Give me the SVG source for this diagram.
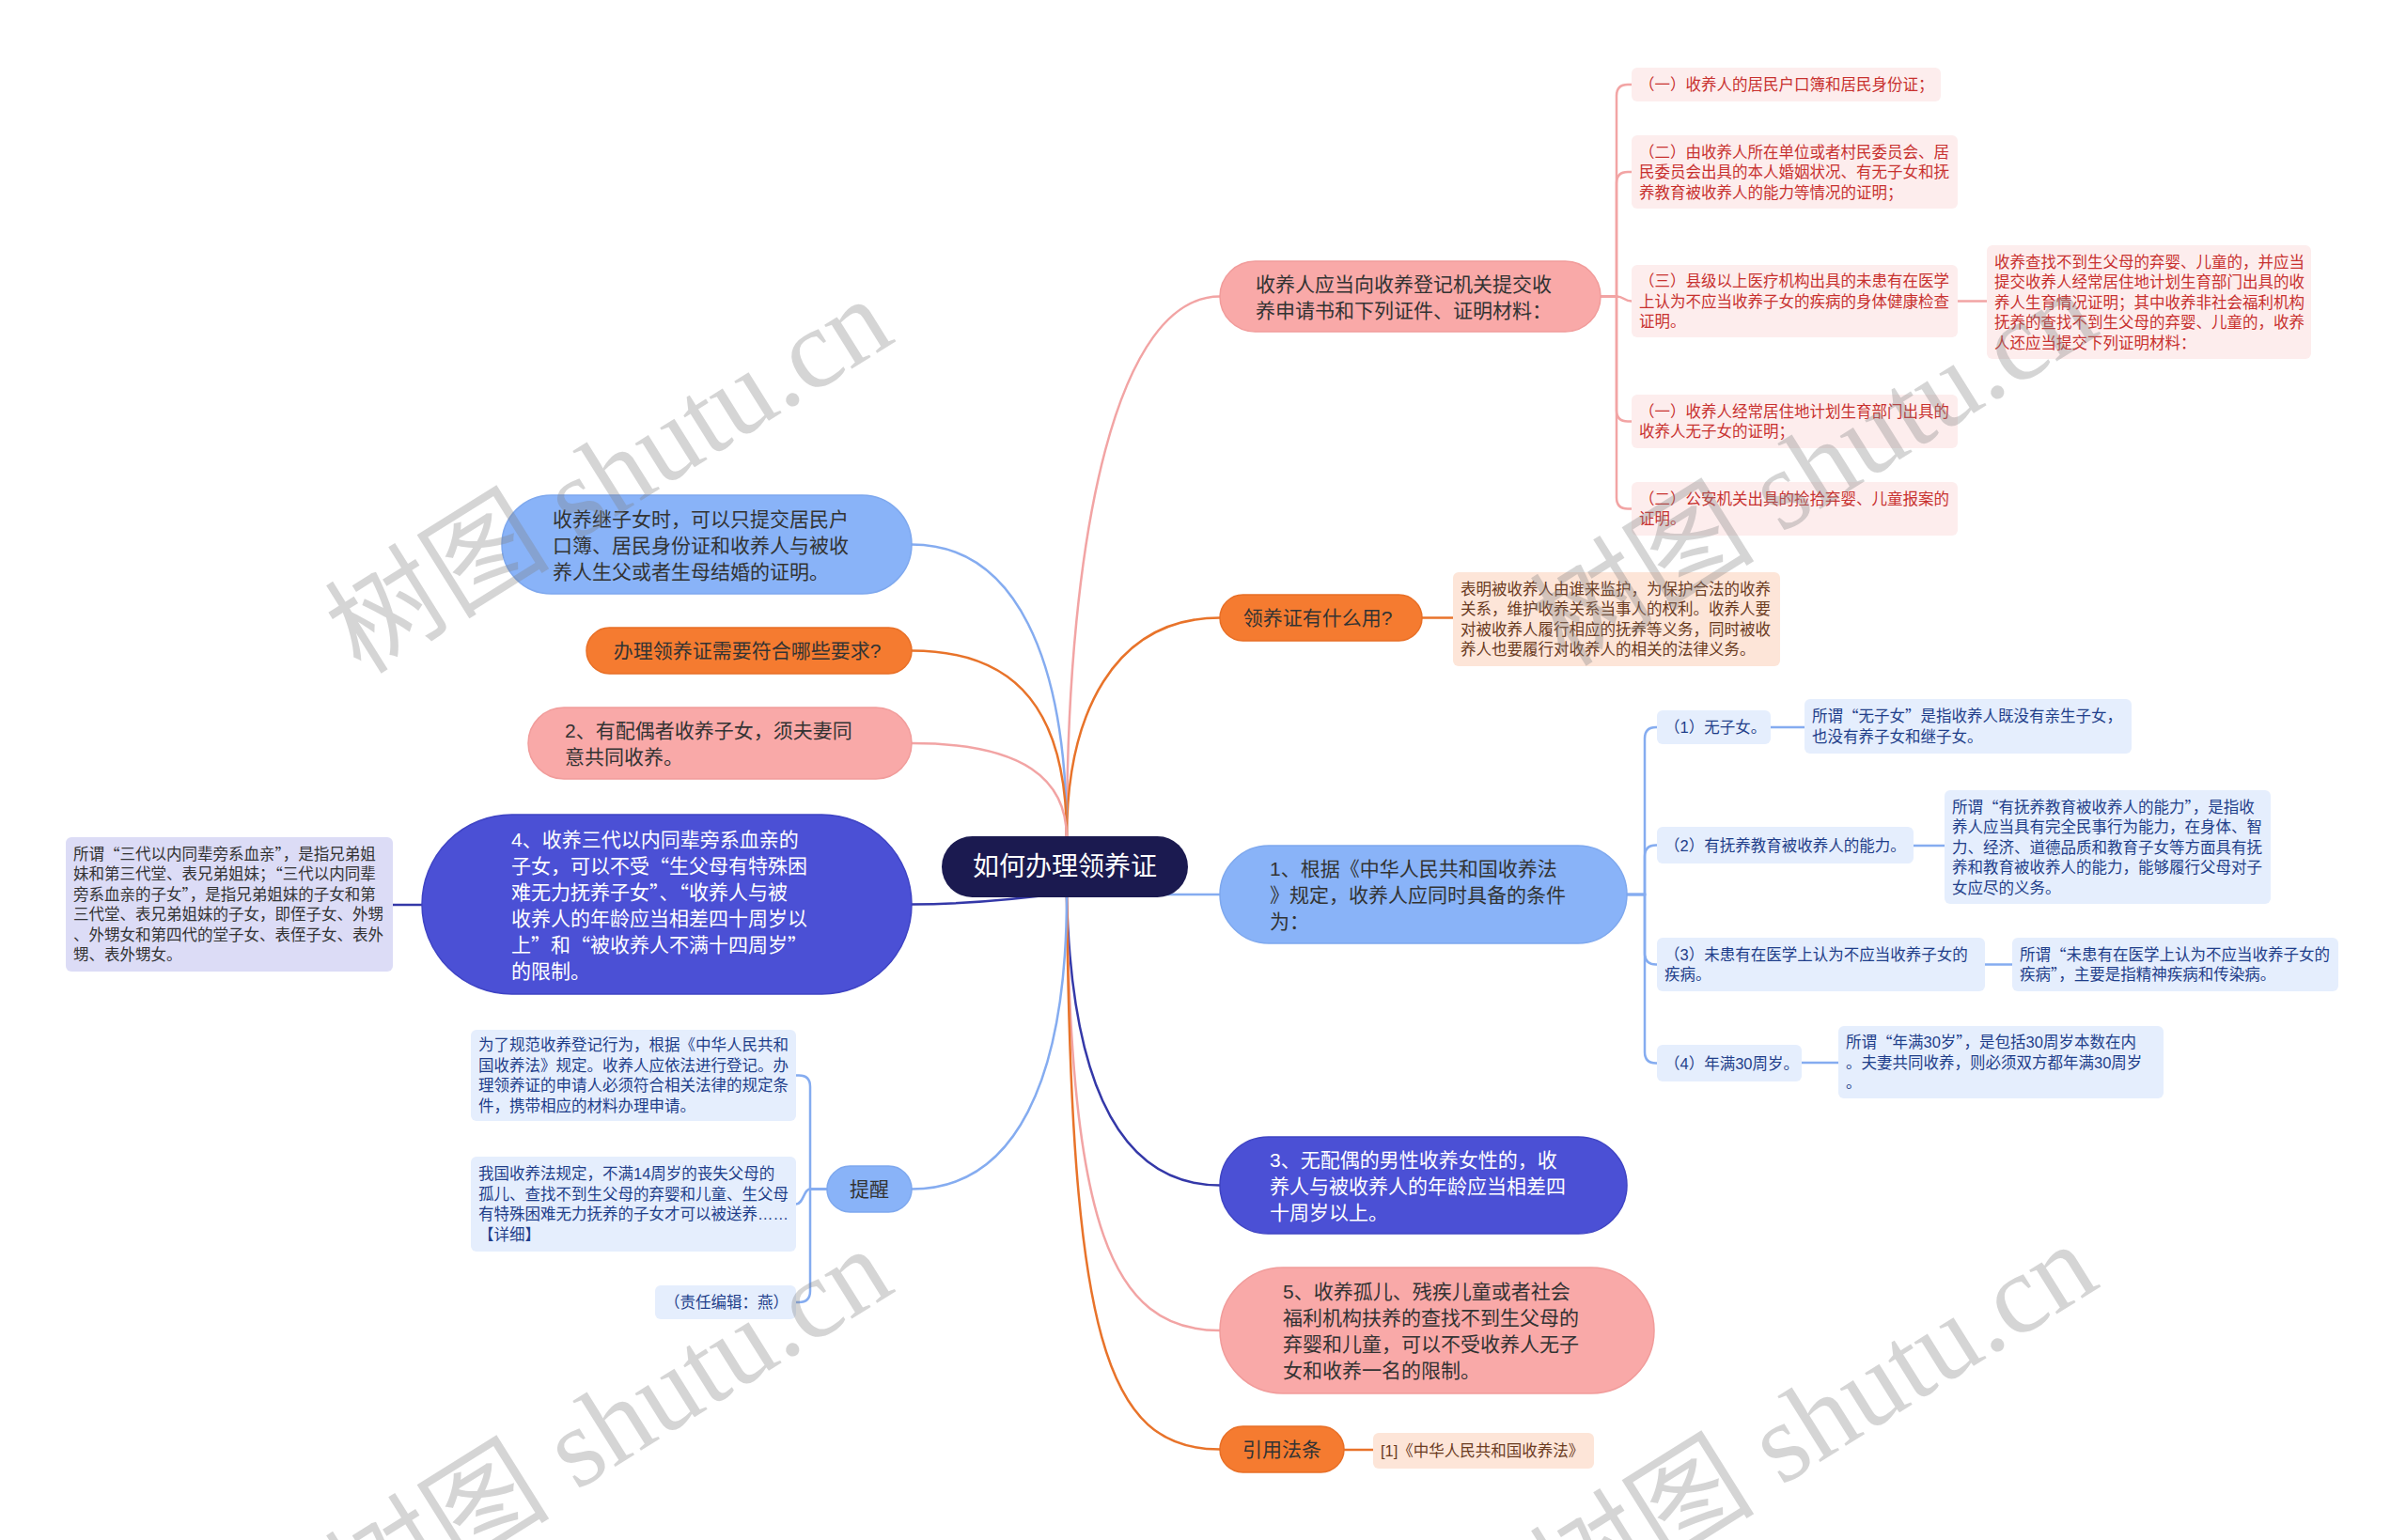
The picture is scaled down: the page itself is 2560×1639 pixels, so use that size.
<svg xmlns="http://www.w3.org/2000/svg" width="2560" height="1639" viewBox="0 0 2560 1639">
<style>
text{font-family:"Liberation Sans","Noto Sans CJK SC",sans-serif;dominant-baseline:central}
.q{font-family:"Noto Sans CJK SC",sans-serif}
.m{font-size:21px;fill:#333}
.mw{font-size:21px;fill:#fff}
.l{font-size:16.5px}
.pk{fill:#f9a9a8;stroke:#f19c9b;stroke-width:1.5}
.or{fill:#f57b30;stroke:#e86f26;stroke-width:1.5}
.bl{fill:#89b3f8;stroke:#7ea8ee;stroke-width:1.5}
.in{fill:#4b50d5;stroke:#3f44c4;stroke-width:1.5}
.lr{fill:#fdeded}
.lrt{fill:#c8312f}
.lo{fill:#fde5d8}
.lot{fill:#6b3b1f}
.lb{fill:#e5eefd}
.lbt{fill:#1f3e8a}
.lv{fill:#dcdcf6}
.lvt{fill:#333}
.c{fill:none;stroke-width:2.5}
.cp{stroke:#f2a4a4}
.co{stroke:#e8732a}
.cb{stroke:#85acf0}
.ci{stroke:#3438a8}
.wm{font-family:"Liberation Serif","Noto Sans CJK SC",serif;font-size:120px;fill:#808080;fill-opacity:0.33;dominant-baseline:auto}
</style>
<rect width="2560" height="1639" fill="#fff"/>
<g id="connectors">
<path class="c cp" d="M1135 892 C1135 560 1190 315.5 1298 315.5"/>
<path class="c co" d="M1135 892 C1135 760 1185 657.5 1298 657.5"/>
<path class="c cb" d="M1135 952 L1298 952"/>
<path class="c ci" d="M1135 953 C1140 1160 1195 1261.5 1298 1261.5"/>
<path class="c cp" d="M1135 953 C1140 1300 1180 1416 1298 1416"/>
<path class="c co" d="M1135 953 C1140 1420 1175 1542.5 1298 1542.5"/>
<path class="c cb" d="M1135 892 C1135 700 1080 579.5 970 579.5"/>
<path class="c co" d="M1135 892 C1135 760 1085 692.5 970 692.5"/>
<path class="c cp" d="M1135 892 C1135 830 1090 791 970 791"/>
<path class="c ci" d="M1135 950 C1090 956 1030 962.5 970 962.5"/>
<path class="c cb" d="M1135 953 C1135 1150 1080 1265.5 970 1265.5"/>
<path class="c cp" d="M1703 315.5 H1720 V102 Q1720 90 1732 90 H1736"/>
<path class="c cp" d="M1703 315.5 H1720 V195 Q1720 183 1732 183 H1736"/>
<path class="c cp" d="M1703 315.5 H1720 C1728 315.5 1728 320.5 1736 320.5"/>
<path class="c cp" d="M1703 315.5 H1720 V436.5 Q1720 448.5 1732 448.5 H1736"/>
<path class="c cp" d="M1703 315.5 H1720 V529.5 Q1720 541.5 1732 541.5 H1736"/>
<path class="c cp" d="M2083 320.5 H2114"/>
<path class="c co" d="M1513 657.5 H1546"/>
<path class="c cb" d="M1731 952 H1750 V786 Q1750 774 1762 774 H1763"/>
<path class="c cb" d="M1731 952 H1750 V911.5 Q1750 899.5 1762 899.5 H1763"/>
<path class="c cb" d="M1731 952 H1750 V1014.5 Q1750 1026.5 1762 1026.5 H1763"/>
<path class="c cb" d="M1731 952 H1750 V1119.5 Q1750 1131.5 1762 1131.5 H1763"/>
<path class="c cb" d="M1884 774 H1920"/>
<path class="c cb" d="M2036 900 H2069"/>
<path class="c cb" d="M2112 1026.5 H2141"/>
<path class="c cb" d="M1917 1131 H1956"/>
<path class="c ci" d="M418 963 H449"/>
<path class="c cb" d="M880 1265.5 H862 V1156.5 Q862 1144.5 850 1144.5 H847"/>
<path class="c cb" d="M880 1265.5 H862 C855 1265.5 855 1281.5 847 1281.5"/>
<path class="c cb" d="M880 1265.5 H862 V1374 Q862 1386 850 1386 H847"/>
<path class="c co" d="M1430 1543 H1461"/>
</g>
<g id="center">
<rect x="1002" y="890" width="262" height="65" rx="32.5" fill="#1b1a50"/>
<text x="1133" y="922.5" font-size="28" fill="#fff" text-anchor="middle">如何办理领养证</text>
</g>
<g id="r1">
<rect class="pk" x="1298" y="278" width="405" height="75" rx="37.5"/>
<text class="m"><tspan x="1336" y="301.5">收养人应当向收养登记机关提交收</tspan><tspan x="1336" y="329.5">养申请书和下列证件、证明材料：</tspan></text>
</g>
<g id="r1a">
<rect class="lr" x="1736" y="72" width="329" height="36" rx="6"/>
<text class="l lrt" x="1744" y="90">（一）收养人的居民户口簿和居民身份证；</text>
</g>
<g id="r1b">
<rect class="lr" x="1736" y="144" width="347" height="78" rx="6"/>
<text class="l lrt"><tspan x="1744" y="161.5">（二）由收养人所在单位或者村民委员会、居</tspan><tspan x="1744" y="183">民委员会出具的本人婚姻状况、有无子女和抚</tspan><tspan x="1744" y="204.5">养教育被收养人的能力等情况的证明；</tspan></text>
</g>
<g id="r1c">
<rect class="lr" x="1736" y="282" width="347" height="77" rx="6"/>
<text class="l lrt"><tspan x="1744" y="299">（三）县级以上医疗机构出具的未患有在医学</tspan><tspan x="1744" y="320.5">上认为不应当收养子女的疾病的身体健康检查</tspan><tspan x="1744" y="342">证明。</tspan></text>
</g>
<g id="r1c1">
<rect class="lr" x="2114" y="261" width="345" height="121" rx="6"/>
<text class="l lrt"><tspan x="2122" y="278.5">收养查找不到生父母的弃婴、儿童的，并应当</tspan><tspan x="2122" y="300">提交收养人经常居住地计划生育部门出具的收</tspan><tspan x="2122" y="321.5">养人生育情况证明；其中收养非社会福利机构</tspan><tspan x="2122" y="343">抚养的查找不到生父母的弃婴、儿童的，收养</tspan><tspan x="2122" y="364.5">人还应当提交下列证明材料：</tspan></text>
</g>
<g id="r1d">
<rect class="lr" x="1736" y="420" width="347" height="57" rx="6"/>
<text class="l lrt"><tspan x="1744" y="437.75">（一）收养人经常居住地计划生育部门出具的</tspan><tspan x="1744" y="459.25">收养人无子女的证明；</tspan></text>
</g>
<g id="r1e">
<rect class="lr" x="1736" y="513" width="347" height="57" rx="6"/>
<text class="l lrt"><tspan x="1744" y="530.75">（二）公安机关出具的捡拾弃婴、儿童报案的</tspan><tspan x="1744" y="552.25">证明。</tspan></text>
</g>
<g id="r2">
<rect class="or" x="1298" y="633" width="215" height="49" rx="24.5"/>
<text class="m" x="1402" y="657.5" text-anchor="middle">领养证有什么用?</text>
</g>
<g id="r2a">
<rect class="lo" x="1546" y="609" width="348" height="100" rx="6"/>
<text class="l lot"><tspan x="1554" y="626.75">表明被收养人由谁来监护，为保护合法的收养</tspan><tspan x="1554" y="648.25">关系，维护收养关系当事人的权利。收养人要</tspan><tspan x="1554" y="669.75">对被收养人履行相应的抚养等义务，同时被收</tspan><tspan x="1554" y="691.25">养人也要履行对收养人的相关的法律义务。</tspan></text>
</g>
<g id="r3">
<rect class="bl" x="1298" y="900" width="433" height="104" rx="52"/>
<text class="m"><tspan x="1351" y="924">1、根据《中华人民共和国收养法</tspan><tspan x="1351" y="952">》规定，收养人应同时具备的条件</tspan><tspan x="1351" y="980">为：</tspan></text>
</g>
<g id="r3a">
<rect class="lb" x="1763" y="756" width="121" height="36" rx="6"/>
<text class="l lbt" x="1771" y="774">（1）无子女。</text>
</g>
<g id="r3a1">
<rect class="lb" x="1920" y="744" width="348" height="58" rx="6"/>
<text class="l lbt"><tspan x="1928" y="762.25">所谓<tspan class="q">“</tspan>无子女<tspan class="q">”</tspan>是指收养人既没有亲生子女，</tspan><tspan x="1928" y="783.75">也没有养子女和继子女。</tspan></text>
</g>
<g id="r3b">
<rect class="lb" x="1763" y="880" width="273" height="39" rx="6"/>
<text class="l lbt" x="1771" y="899.5">（2）有抚养教育被收养人的能力。</text>
</g>
<g id="r3b1">
<rect class="lb" x="2069" y="841" width="347" height="121" rx="6"/>
<text class="l lbt"><tspan x="2077" y="858.5">所谓<tspan class="q">“</tspan>有抚养教育被收养人的能力<tspan class="q">”</tspan>，是指收</tspan><tspan x="2077" y="880">养人应当具有完全民事行为能力，在身体、智</tspan><tspan x="2077" y="901.5">力、经济、道德品质和教育子女等方面具有抚</tspan><tspan x="2077" y="923">养和教育被收养人的能力，能够履行父母对子</tspan><tspan x="2077" y="944.5">女应尽的义务。</tspan></text>
</g>
<g id="r3c">
<rect class="lb" x="1763" y="998" width="349" height="57" rx="6"/>
<text class="l lbt"><tspan x="1771" y="1015.75">（3）未患有在医学上认为不应当收养子女的</tspan><tspan x="1771" y="1037.25">疾病。</tspan></text>
</g>
<g id="r3c1">
<rect class="lb" x="2141" y="998" width="347" height="57" rx="6"/>
<text class="l lbt"><tspan x="2149" y="1015.75">所谓<tspan class="q">“</tspan>未患有在医学上认为不应当收养子女的</tspan><tspan x="2149" y="1037.25">疾病<tspan class="q">”</tspan>，主要是指精神疾病和传染病。</tspan></text>
</g>
<g id="r3d">
<rect class="lb" x="1763" y="1112" width="154" height="39" rx="6"/>
<text class="l lbt" x="1771" y="1131.5">（4）年满30周岁。</text>
</g>
<g id="r3d1">
<rect class="lb" x="1956" y="1092" width="346" height="77" rx="6"/>
<text class="l lbt"><tspan x="1964" y="1109">所谓<tspan class="q">“</tspan>年满30岁<tspan class="q">”</tspan>，是包括30周岁本数在内</tspan><tspan x="1964" y="1130.5">。夫妻共同收养，则必须双方都年满30周岁</tspan><tspan x="1964" y="1152">。</tspan></text>
</g>
<g id="r4">
<rect class="in" x="1298" y="1210" width="433" height="103" rx="51.5"/>
<text class="mw"><tspan x="1351" y="1233.5">3、无配偶的男性收养女性的，收</tspan><tspan x="1351" y="1261.5">养人与被收养人的年龄应当相差四</tspan><tspan x="1351" y="1289.5">十周岁以上。</tspan></text>
</g>
<g id="r5">
<rect class="pk" x="1298" y="1349" width="462" height="134" rx="67"/>
<text class="m"><tspan x="1365" y="1374">5、收养孤儿、残疾儿童或者社会</tspan><tspan x="1365" y="1402">福利机构扶养的查找不到生父母的</tspan><tspan x="1365" y="1430">弃婴和儿童，可以不受收养人无子</tspan><tspan x="1365" y="1458">女和收养一名的限制。</tspan></text>
</g>
<g id="r6">
<rect class="or" x="1298" y="1518" width="132" height="49" rx="24.5"/>
<text class="m" x="1364" y="1542.5" text-anchor="middle">引用法条</text>
</g>
<g id="r6a">
<rect class="lo" x="1461" y="1525" width="235" height="38" rx="6"/>
<text class="l lot" x="1469" y="1544">[1]《中华人民共和国收养法》</text>
</g>
<g id="l1">
<rect class="bl" x="534" y="527" width="436" height="105" rx="52.5"/>
<text class="m"><tspan x="588" y="551.5">收养继子女时，可以只提交居民户</tspan><tspan x="588" y="579.5">口簿、居民身份证和收养人与被收</tspan><tspan x="588" y="607.5">养人生父或者生母结婚的证明。</tspan></text>
</g>
<g id="l2">
<rect class="or" x="624" y="668" width="346" height="49" rx="24.5"/>
<text class="m" x="795" y="692.5" text-anchor="middle">办理领养证需要符合哪些要求?</text>
</g>
<g id="l3">
<rect class="pk" x="562" y="753" width="408" height="76" rx="38"/>
<text class="m"><tspan x="601" y="777">2、有配偶者收养子女，须夫妻同</tspan><tspan x="601" y="805">意共同收养。</tspan></text>
</g>
<g id="l4">
<rect class="in" x="449" y="867" width="521" height="191" rx="95.5"/>
<text class="mw"><tspan x="544" y="892.5">4、收养三代以内同辈旁系血亲的</tspan><tspan x="544" y="920.5">子女，可以不受<tspan class="q">“</tspan>生父母有特殊困</tspan><tspan x="544" y="948.5">难无力抚养子女<tspan class="q">”</tspan>、<tspan class="q">“</tspan>收养人与被</tspan><tspan x="544" y="976.5">收养人的年龄应当相差四十周岁以</tspan><tspan x="544" y="1004.5">上<tspan class="q">”</tspan>和<tspan class="q">“</tspan>被收养人不满十四周岁<tspan class="q">”</tspan></tspan><tspan x="544" y="1032.5">的限制。</tspan></text>
</g>
<g id="l4a">
<rect class="lv" x="70" y="891" width="348" height="143" rx="6"/>
<text class="l lvt"><tspan x="78" y="908.75">所谓<tspan class="q">“</tspan>三代以内同辈旁系血亲<tspan class="q">”</tspan>，是指兄弟姐</tspan><tspan x="78" y="930.25">妹和第三代堂、表兄弟姐妹；<tspan class="q">“</tspan>三代以内同辈</tspan><tspan x="78" y="951.75">旁系血亲的子女<tspan class="q">”</tspan>，是指兄弟姐妹的子女和第</tspan><tspan x="78" y="973.25">三代堂、表兄弟姐妹的子女，即侄子女、外甥</tspan><tspan x="78" y="994.75">、外甥女和第四代的堂子女、表侄子女、表外</tspan><tspan x="78" y="1016.25">甥、表外甥女。</tspan></text>
</g>
<g id="l5">
<rect class="bl" x="880" y="1241" width="90" height="49" rx="24.5"/>
<text class="m" x="925" y="1265.5" text-anchor="middle">提醒</text>
</g>
<g id="l5a">
<rect class="lb" x="501" y="1096" width="346" height="97" rx="6"/>
<text class="l lbt"><tspan x="509" y="1112.25">为了规范收养登记行为，根据《中华人民共和</tspan><tspan x="509" y="1133.75">国收养法》规定。收养人应依法进行登记。办</tspan><tspan x="509" y="1155.25">理领养证的申请人必须符合相关法律的规定条</tspan><tspan x="509" y="1176.75">件，携带相应的材料办理申请。</tspan></text>
</g>
<g id="l5b">
<rect class="lb" x="501" y="1231" width="346" height="101" rx="6"/>
<text class="l lbt"><tspan x="509" y="1249.25">我国收养法规定，不满14周岁的丧失父母的</tspan><tspan x="509" y="1270.75">孤儿、查找不到生父母的弃婴和儿童、生父母</tspan><tspan x="509" y="1292.25">有特殊困难无力抚养的子女才可以被送养……</tspan><tspan x="509" y="1313.75">【详细】</tspan></text>
</g>
<g id="l5c">
<rect class="lb" x="697" y="1368" width="150" height="36" rx="6"/>
<text class="l lbt" x="707" y="1386">（责任编辑：燕）</text>
</g>
<g id="watermarks">
<text class="wm" transform="translate(384 719) rotate(-32)">树图 shutu.cn</text>
<text class="wm" transform="translate(1666 711) rotate(-32)">树图 shutu.cn</text>
<text class="wm" transform="translate(384 1730) rotate(-32)">树图 shutu.cn</text>
<text class="wm" transform="translate(1666 1725) rotate(-32)">树图 shutu.cn</text>
</g>
</svg>
